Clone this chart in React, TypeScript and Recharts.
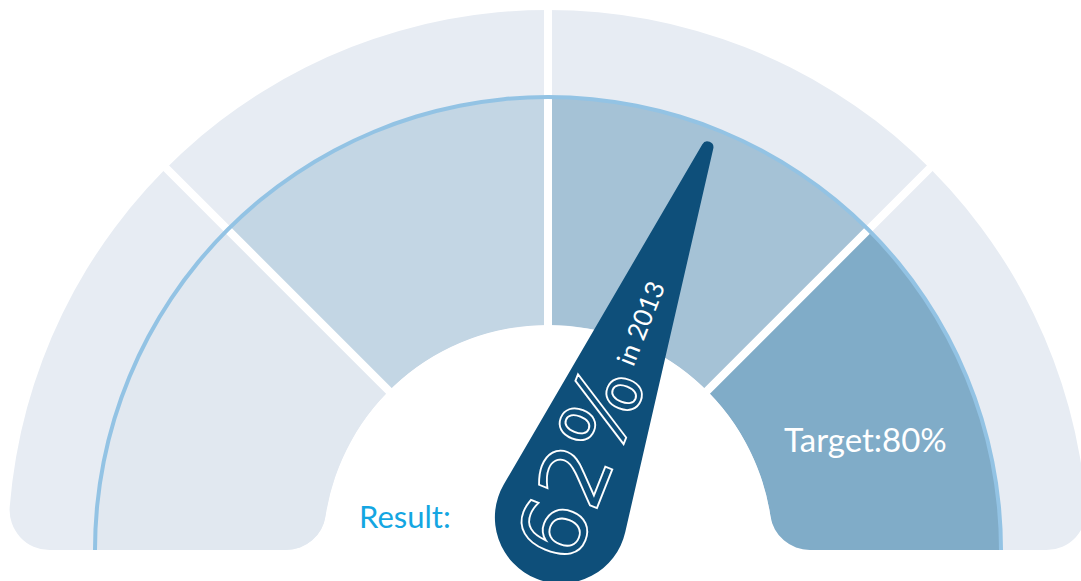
import React from 'react';
import { Cell, Pie, PieChart, Sector } from 'recharts';

// gauge bands, in percent of the scale
const bandNames = ['0-25%', '25-50%', '50-75%', '75-100%'];
const bandShares = [25, 25, 25, 25];
const scaleMax = 100;
const resultValue = 62;
const resultYear = 2013;
const targetValue = 80;

const bandData = bandNames.map((name, i) => ({ name, value: bandShares[i] }));
const trackData = [{ name: 'scale', value: scaleMax }];
const needleData = [
  { name: 'result', value: resultValue },
  { name: 'rest', value: scaleMax - resultValue },
];

const W = 1081;
const H = 581;
const CX = 548;
const CY = 550;
const HOLE_R = 225;
const OUTER_R = 540;
const BAND_R = 453;
const CORNER = 40;

const trackColor = '#e7ecf3';
const bandColors = ['#e1e8f0', '#c3d6e4', '#a5c2d6', '#80acc8'];
const rimColor = '#93c3e4';
const needleColor = '#0e4f7a';
const resultColor = '#14a6e2';

const renderNeedle = (props: any) => {
  if (props.index !== 0) return null;
  const { cx, cy, endAngle, value } = props;
  const rad = (endAngle * Math.PI) / 180;
  const bx = cx + 35 * Math.cos(rad);
  const by = cy - 35 * Math.sin(rad);
  const R = 66;
  const r = 6;
  const L = 398;
  const th = Math.acos((R - r) / L);
  const c = Math.cos(th);
  const s = Math.sin(th);
  const d = `M ${R * c} ${-R * s} L ${L + r * c} ${-r * s} A ${r} ${r} 0 0 1 ${L + r * c} ${r * s} L ${R * c} ${R * s} A ${R} ${R} 0 1 1 ${R * c} ${-R * s} Z`;
  return (
    <g>
      <g transform={`translate(${bx},${by}) rotate(${-endAngle})`}>
        <path d={d} fill={needleColor} />
        <text x={-42} y={30} fontSize={90} fill="none" stroke="#fff" strokeWidth={1.8} fontFamily="DejaVu Sans">
          {value}%
        </text>
        <text x={166} y={12} fontSize={26} fill="#fff" fontFamily="Lato">
          in {resultYear}
        </text>
      </g>
      <text x={359} y={528} fontSize={31} fill={resultColor} fontFamily="Lato">
        Result:
      </text>
    </g>
  );
};

const renderTarget = (props: any) => {
  if (props.index !== bandShares.length - 1) return null;
  return (
    <text x={props.cx + 236} y={props.cy - 98} fontSize={33} fill="#fff" fontFamily="Lato">
      Target:{targetValue}%
    </text>
  );
};

export default function App() {
  return (
    <div style={{ position: 'absolute', left: 0, top: 0, width: W, height: H }}>
      <PieChart width={W} height={H} margin={{ top: 0, right: 0, bottom: 0, left: 0 }}>
        <defs>
          <clipPath id="gaugeShape">
            <Sector
              cx={CX}
              cy={CY}
              innerRadius={HOLE_R}
              outerRadius={OUTER_R}
              startAngle={180}
              endAngle={0}
              cornerRadius={CORNER}
            />
          </clipPath>
        </defs>
        <Pie
          data={trackData}
          dataKey="value"
          cx={CX}
          cy={CY}
          startAngle={180}
          endAngle={0}
          innerRadius={HOLE_R}
          outerRadius={OUTER_R}
          cornerRadius={CORNER}
          fill={trackColor}
          stroke="none"
          isAnimationActive={false}
        />
        <Pie
          data={bandData}
          dataKey="value"
          cx={CX}
          cy={CY}
          startAngle={180}
          endAngle={0}
          innerRadius={HOLE_R}
          outerRadius={BAND_R}
          stroke="none"
          label={renderTarget}
          labelLine={false}
          isAnimationActive={false}
        >
          {bandData.map((b, i) => (
            <Cell key={b.name} fill={bandColors[i]} clipPath="url(#gaugeShape)" />
          ))}
        </Pie>
        <Pie
          data={bandData}
          dataKey="value"
          cx={CX}
          cy={CY}
          startAngle={180}
          endAngle={0}
          innerRadius={200}
          outerRadius={560}
          fill="none"
          isAnimationActive={false}
        >
          {bandData.map((b, i) => (
            <Cell
              key={b.name}
              fill="none"
              stroke={i === 0 || i === bandData.length - 1 ? 'none' : '#fff'}
              strokeWidth={8}
            />
          ))}
        </Pie>
        <Pie
          data={trackData}
          dataKey="value"
          cx={CX}
          cy={CY}
          startAngle={180}
          endAngle={0}
          innerRadius={BAND_R - 2}
          outerRadius={BAND_R + 2}
          fill={rimColor}
          stroke="none"
          isAnimationActive={false}
        />
        <Pie
          data={needleData}
          dataKey="value"
          cx={CX}
          cy={CY}
          startAngle={180}
          endAngle={0}
          innerRadius={0}
          outerRadius={10}
          fill="none"
          stroke="none"
          label={renderNeedle}
          labelLine={false}
          isAnimationActive={false}
        />
      </PieChart>
    </div>
  );
}
